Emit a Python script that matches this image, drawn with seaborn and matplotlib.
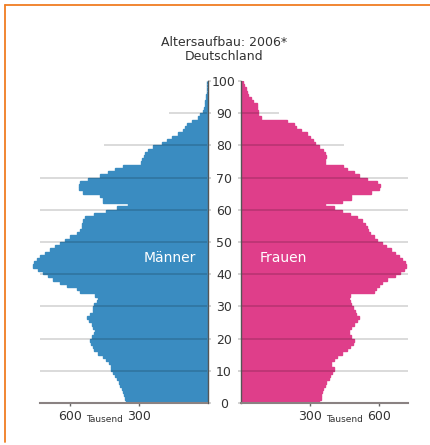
import numpy as np
import pandas as pd
import matplotlib
matplotlib.use("Agg")
import matplotlib.pyplot as plt
import matplotlib.transforms as mtransforms
from matplotlib.lines import Line2D
import seaborn as sns

# population by single year of age (0..99), thousands
ages = np.arange(100)

male = [
    357, 362, 366, 370, 375, 380, 388, 394, 402, 414,
    421, 423, 429, 443, 455, 477, 494, 502, 509, 513,
    506, 496, 491, 499, 504, 516, 525, 513, 502, 499,
    494, 484, 477, 490, 555, 571, 615, 644, 673, 695,
    717, 739, 761, 758, 746, 731, 710, 688, 666, 644,
    622, 600, 571, 557, 549, 549, 542, 535, 495, 445,
    395, 346, 458, 458, 469, 542, 560, 560, 557, 520,
    469, 433, 404, 368, 290, 285, 277, 273, 258, 237,
    200, 178, 156, 127, 106, 98, 91, 69, 42, 33,
    20, 14, 11, 9, 7, 5, 4, 3, 2, 2,
]

female = [
    342, 348, 351, 354, 358, 365, 372, 383, 390, 397,
    404, 394, 391, 404, 419, 440, 462, 477, 487, 491,
    478, 472, 469, 481, 491, 506, 513, 501, 495, 487,
    481, 477, 469, 475, 580, 590, 600, 614, 636, 672,
    694, 709, 719, 713, 701, 687, 672, 651, 632, 614,
    593, 578, 564, 554, 549, 542, 527, 506, 477, 440,
    404, 366, 440, 481, 481, 565, 602, 604, 592, 548,
    512, 493, 461, 445, 366, 366, 370, 367, 357, 341,
    323, 316, 301, 287, 262, 240, 232, 200, 88, 77,
    76, 73, 70, 55, 43, 33, 26, 22, 14, 10,
]

age_ticks = list(range(0, 101, 10))
x_ticks = [300, 600]

BLUE = "#3a8cc1"
PINK = "#df3e8a"
TEXT = "#333333"

sns.set_style("white")
plt.rcParams["font.family"] = ["DejaVu Sans"]

fig = plt.figure(figsize=(4.30, 4.45), dpi=100)
# left panel is wider than its axis line so the longest bars can poke out
ax_m = fig.add_axes([25 / 430, 42.1 / 445, 182.5 / 430, 322 / 445])
ax_f = fig.add_axes([240.7 / 430, 42.1 / 445, 167.3 / 430, 322 / 445])

df_m = pd.DataFrame({"age": ages + 0.5, "value": male})
df_f = pd.DataFrame({"age": ages + 0.5, "value": female})

for ax, df, col in [(ax_m, df_m, BLUE), (ax_f, df_f, PINK)]:
    # same-colour edges hide the seams between the one-year bars
    sns.barplot(data=df, x="value", y="age", orient="y", native_scale=True,
                width=1, color=col, saturation=1, errorbar=None,
                linewidth=1.0, edgecolor=col, ax=ax)
    ax.set_ylim(0, 100)
    ax.set_xlabel("")
    ax.set_ylabel("")
    ax.set_yticks(age_ticks)
    ax.set_xticks(x_ticks)
    ax.set_xticklabels([str(t) for t in x_ticks])
    ax.tick_params(axis="x", length=2.5, width=1, color="#666666",
                   labelsize=9, labelcolor=TEXT, pad=2.5, bottom=True)
    ax.spines["top"].set_visible(False)
    ax.spines["bottom"].set_color("#8a8282")
    ax.spines["bottom"].set_linewidth(1.5)
    ax.spines["bottom"].set_zorder(4)

ax_m.set_xlim(797, 0)
ax_m.spines["bottom"].set_bounds(731, 0)
ax_f.set_xlim(0, 727)

# gridlines (drawn over the bars, shorter at the top)
grid_len = {80: 450, 90: 166}
for ax, xmax in [(ax_m, 731), (ax_f, 727)]:
    for lvl in range(10, 100, 10):
        ax.hlines(lvl, 0, grid_len.get(lvl, xmax), color="black",
                  alpha=0.17, lw=1.2, zorder=3)

ax_m.spines["left"].set_visible(False)
ax_m.spines["right"].set_color("#555555")
ax_m.spines["right"].set_linewidth(1)
ax_m.spines["right"].set_zorder(4)
ax_m.yaxis.tick_right()
ax_m.tick_params(axis="y", right=True, left=False, labelright=False,
                 labelleft=False, length=2.5, width=1.2, color="#cccccc")

ax_f.spines["right"].set_visible(False)
ax_f.spines["left"].set_color("#555555")
ax_f.spines["left"].set_linewidth(1)
ax_f.spines["left"].set_zorder(4)
ax_f.tick_params(axis="y", left=True, length=2.5, width=1.2, color="#cccccc",
                 labelsize=9, labelcolor=TEXT, pad=9.5)
for lab in ax_f.get_yticklabels():
    lab.set_ha("center")

# "Tausend" unit labels
for ax, xv in [(ax_m, 448), (ax_f, 449)]:
    tr = mtransforms.blended_transform_factory(ax.transData, ax.transAxes)
    ax.text(xv, -0.053, "Tausend", transform=tr, ha="center", va="center",
            fontsize=6.5, color=TEXT)

fig.text(170 / 430, 1 - 258 / 445, "Männer", ha="center", va="center",
         fontsize=10, color="white")
fig.text(283 / 430, 1 - 257.5 / 445, "Frauen", ha="center", va="center",
         fontsize=10, color="white")

fig.text(224.5 / 430, 1 - 42.5 / 445, "Altersaufbau: 2006*", ha="center",
         va="center", fontsize=9, color=TEXT)
fig.text(224.5 / 430, 1 - 56 / 445, "Deutschland", ha="center",
         va="center", fontsize=9, color=TEXT)

# orange frame on the left and top edge
ORANGE = "#f07d22"
fig.add_artist(Line2D([4.5 / 430, 4.5 / 430], [1 - 442 / 445, 1 - 5 / 445],
                      transform=fig.transFigure, color=ORANGE, lw=1.3))
fig.add_artist(Line2D([4.5 / 430, 1], [1 - 5 / 445, 1 - 5 / 445],
                      transform=fig.transFigure, color=ORANGE, lw=1.3))

fig.savefig("out.png", dpi=100)
